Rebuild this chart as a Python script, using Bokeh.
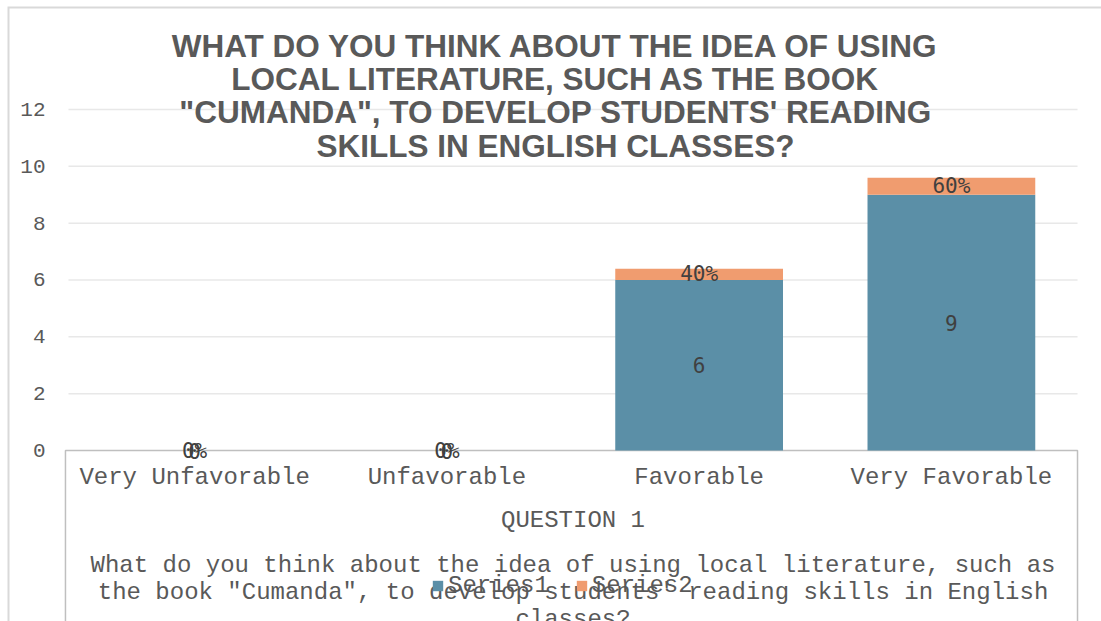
from bokeh.plotting import figure
from bokeh.models import Range1d, Legend, LegendItem, ColumnDataSource
from bokeh.core.properties import value
from bokeh.embed import file_html
from bokeh.resources import INLINE

# ---------------- data ----------------
categories = ["Very Unfavorable", "Unfavorable", "Favorable", "Very Favorable"]
series1 = [0, 0, 6, 9]
series2 = [0, 0, 0.4, 0.6]
series1_labels = ["0", "0", "6", "9"]
series2_labels = ["0%", "0%", "40%", "60%"]
y_ticks = [0, 2, 4, 6, 8, 10, 12]
title_lines = [
    "WHAT DO YOU THINK ABOUT THE IDEA OF USING",
    "LOCAL LITERATURE, SUCH AS THE BOOK",
    "\"CUMANDA\", TO DEVELOP STUDENTS' READING",
    "SKILLS IN ENGLISH CLASSES?",
]
axis_title = "QUESTION 1"
desc_lines = [
    "What do you think about the idea of using local literature, such as",
    "the book \"Cumanda\", to develop students' reading skills in English",
    "classes?",
]
series_names = ["Series1", "Series2"]
colors = ["#5b8fa7", "#f09c6f"]

TXT = "#595959"
n = len(categories)
cat_x = [i + 0.5 for i in range(n)]          # categorical slots 0..n

src = ColumnDataSource(dict(
    x=cat_x,
    s1=series1,
    s2=series2,
    mid1=[v / 2 for v in series1],
    mid2=[a + b / 2 for a, b in zip(series1, series2)],
    lab1=series1_labels,
    lab2=series2_labels,
))

X0, X1 = -0.2418, n + 0.0951
Y0, Y1 = -6.0175, 15.6245

# plot frame covers the whole chart area
p = figure(x_range=Range1d(X0, X1), y_range=Range1d(Y0, Y1),
           width=1101, height=621, output_backend="svg", toolbar_location=None,
           min_border_left=7, min_border_right=0, min_border_top=6,
           min_border_bottom=0)
p.outline_line_color = None
p.background_fill_color = "white"
p.border_fill_color = "white"
p.xaxis.visible = False
p.yaxis.visible = False
p.xgrid.visible = False
p.ygrid.visible = False

# chart border (left and top edges visible in the crop)
p.line(x=[X0, X0, X1], y=[Y0, Y1, Y1], line_color="#d9d9d9", line_width=4)

# gridlines (value axis)
grid_vals = [t for t in y_ticks if t > 0]
p.segment(x0=[0] * len(grid_vals), x1=[n] * len(grid_vals), y0=grid_vals, y1=grid_vals,
          line_color="#e8e8e8", line_width=1.5)

# category box (axis line + table frame)
p.line(x=[-0.012, -0.012, n, n], y=[-7, 0, 0, -7], line_color="#bfbfbf", line_width=1.5)

rs = p.vbar_stack(["s1", "s2"], x="x", width=0.665, color=colors, source=src,
                  line_color=None)

# value axis tick labels
p.text(x=[-0.0912] * len(y_ticks), y=y_ticks, text=[str(t) for t in y_ticks],
       text_align="right", text_baseline="middle",
       text_font=value("Liberation Mono"), text_font_size="21px", text_color=TXT)

# category tick labels
p.text(x=cat_x, y=[-0.95] * n, text=categories, text_align="center",
       text_baseline="middle", text_font=value("Liberation Mono"),
       text_font_size="24px", text_color=TXT)

# data labels
for ycol, tcol in (("mid1", "lab1"), ("mid2", "lab2")):
    p.text(x="x", y=ycol, text=tcol, source=src, text_align="center",
           text_baseline="middle", text_font=value("DejaVu Sans Mono"),
           text_font_size="21px", text_color="#404040")

# title
title_y = [14.22, 13.09, 11.91, 10.70]
p.text(x=[1.9306] * len(title_lines), y=title_y, text=title_lines,
       text_align="center", text_baseline="middle",
       text_font=value("Liberation Sans"), text_font_style="bold",
       text_font_size="31.5px", text_color=TXT)

# axis title + description
p.text(x=[2.0], y=[-2.463], text=[axis_title], text_align="center",
       text_baseline="middle", text_font=value("Liberation Mono"),
       text_font_size="24px", text_color=TXT)
p.text(x=[2.0] * len(desc_lines), y=[-4.047, -4.997, -5.947], text=desc_lines,
       text_align="center", text_baseline="middle",
       text_font=value("Liberation Mono"), text_font_size="24px", text_color=TXT)

legend = Legend(items=[LegendItem(label=nm, renderers=[r]) for nm, r in zip(series_names, rs)],
                orientation="horizontal", location=(424, 22),
                label_text_font="Liberation Mono", label_text_font_size="24px",
                label_text_color=TXT, glyph_width=13, glyph_height=13,
                label_height=20, spacing=26, padding=0, margin=0,
                border_line_color=None, background_fill_alpha=0, label_standoff=4)
p.add_layout(legend, "center")

open("out.html", "w").write(file_html(p, INLINE))
